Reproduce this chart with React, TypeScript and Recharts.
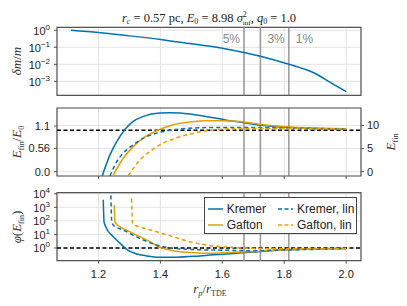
import React from "react";
import {
  LineChart,
  Line,
  XAxis,
  YAxis,
  CartesianGrid,
  ReferenceLine,
  ReferenceArea,
} from "recharts";

// shared x axis (r_p / r_TDE)
const xDomain = [1.066, 2.048];
const xTicks = [1.2, 1.4, 1.6, 1.8, 2.0];
const cutX = [1.67, 1.723, 1.815];
const cutLabels = ["5%", "3%", "1%"];
const E0 = 8.98;

// top panel: delta m / m
const dmX = [1.111, 1.2, 1.3, 1.4, 1.5, 1.6, 1.67, 1.723, 1.815, 1.9, 1.95, 2.0];
const dmY = [1.0, 0.74, 0.47, 0.29, 0.16, 0.089, 0.05, 0.03, 0.01, 0.0029, 0.00083, 0.00025];

// middle panel: E_fin
const kremerEX = [1.212, 1.237, 1.259, 1.285, 1.312, 1.345, 1.398, 1.43, 1.495, 1.55, 1.61, 1.656, 1.732, 1.818, 1.9, 2.0];
const kremerE = [-0.93, 3.63, 6.52, 9.07, 10.87, 11.96, 12.7, 12.76, 12.5, 11.9, 11.2, 10.74, 10.0, 9.57, 9.35, 9.2];
const gaftonEX = [1.246, 1.28, 1.312, 1.345, 1.388, 1.441, 1.495, 1.549, 1.603, 1.656, 1.732, 1.818, 1.9, 2.0];
const gaftonE = [-0.93, 2.9, 5.43, 7.26, 8.85, 10.15, 10.74, 11.02, 11.02, 10.87, 10.15, 9.65, 9.45, 9.28];
const kremerLinEX = [1.237, 1.259, 1.28, 1.312, 1.345, 1.388, 1.441, 1.495, 1.55, 1.603, 1.7, 1.8, 1.9, 2.0];
const kremerLinE = [-0.93, 2.17, 4.0, 5.8, 7.26, 8.35, 9.07, 9.4, 9.55, 9.57, 9.55, 9.45, 9.35, 9.25];
const gaftonLinEX = [1.296, 1.334, 1.366, 1.398, 1.441, 1.495, 1.549, 1.624, 1.7, 1.8, 1.9, 2.0];
const gaftonLinE = [-0.93, 2.54, 4.35, 5.8, 7.04, 8.13, 8.85, 9.28, 9.35, 9.35, 9.3, 9.25];

// bottom panel: phi(E_fin)
const kremerPhiX = [1.2155, 1.218, 1.226, 1.248, 1.27, 1.291, 1.323, 1.356, 1.398, 1.452, 1.527, 1.603, 1.7, 1.818, 1.9, 2.0];
const kremerPhi = [3630, 83, 27.5, 6.8, 2.19, 0.79, 0.36, 0.26, 0.21, 0.21, 0.26, 0.35, 0.5, 0.76, 0.85, 0.93];
const kremerLinPhiX = [1.24, 1.243, 1.248, 1.28, 1.312, 1.345, 1.388, 1.441, 1.495, 1.603, 1.7, 1.8, 1.9, 2.0];
const kremerLinPhi = [7600, 83, 48, 21, 8.9, 3.9, 1.66, 0.95, 0.79, 0.68, 0.63, 0.71, 0.79, 0.89];
const gaftonPhiX = [1.251, 1.253, 1.27, 1.302, 1.334, 1.366, 1.398, 1.441, 1.495, 1.549, 1.624, 1.7, 1.8, 1.9, 2.0];
const gaftonPhi = [1410, 83, 36, 15.5, 6.8, 2.9, 1.12, 0.63, 0.46, 0.41, 0.46, 0.54, 0.71, 0.83, 0.91];
const gaftonLinPhiX = [1.307, 1.31, 1.334, 1.388, 1.441, 1.495, 1.549, 1.624, 1.7, 1.8, 1.9, 2.0];
const gaftonLinPhi = [4400, 63, 36, 15.5, 6.8, 2.9, 1.66, 1.12, 0.93, 0.87, 0.87, 0.89];

const BLUE = "#0072B2";
const ORANGE = "#E69F00";
const SANS = "'Liberation Sans', Arial, sans-serif";
const SERIF = "'Liberation Serif', 'DejaVu Serif', serif";
const GRID = "#e3e3e3";
const FRAME = "#555";

const pts = (xs: number[], ys: number[]) => xs.map((x, i) => ({ x, y: ys[i] }));

const PowTick = (props: any) => {
  const { x, y, payload } = props;
  const e = Math.round(Math.log10(payload.value));
  return (
    <text x={x} y={y} dy={4.5} textAnchor="end" fontSize={11} fill="#222" fontFamily={SANS}>
      10
      <tspan dy={-5} fontSize={8}>
        {e < 0 ? "\u2212" + -e : String(e)}
      </tspan>
    </text>
  );
};

const cutLines = (yAxisId: any, labels: boolean) =>
  cutX.map((cx, i) => (
    <ReferenceLine
      key={cx}
      x={cx}
      yAxisId={yAxisId}
      stroke={i === 2 ? "#666" : "#9a9a9a"}
      strokeWidth={i === 2 ? 1 : 1.6}
      label={
        labels
          ? (p: any) => {
              const vb = p.viewBox;
              const right = i > 0;
              return (
                <text
                  x={right ? vb.x + 7 : vb.x - 4}
                  y={vb.y + 16}
                  textAnchor={right ? "start" : "end"}
                  fontSize={12}
                  fill="#888"
                  fontFamily={SANS}
                >
                  {cutLabels[i]}
                </text>
              );
            }
          : undefined
      }
    />
  ));

const LegendSample = ({ color, dashed }: { color: string; dashed: boolean }) => (
  <svg width={15} height={4} style={{ display: "block" }}>
    <line x1={0} y1={2} x2={15} y2={2} stroke={color} strokeWidth={1.5} strokeDasharray={dashed ? "4 2.5" : undefined} />
  </svg>
);

const legendItems = [
  { name: "Kremer", color: BLUE, dashed: false, left: 2.7, top: 11.3 },
  { name: "Gafton", color: ORANGE, dashed: false, left: 2.7, top: 27 },
  { name: "Kremer, lin", color: BLUE, dashed: true, left: 73, top: 11.3 },
  { name: "Gafton, lin", color: ORANGE, dashed: true, left: 73, top: 27 },
];

export default function App() {
  const dmDomain = [0.000151, 1.5];
  const phiDomain = [0.115, 12000];
  const absDomain = [-0.93, 13.78];
  const ratioDomain = [absDomain[0] / E0, absDomain[1] / E0];
  const tickFont = { fontSize: 11, fill: "#222", fontFamily: SANS };

  return (
    <div style={{ position: "absolute", left: 0, top: 0, width: 407, height: 306, background: "#fff" }}>
      {/* top panel */}
      <div style={{ position: "absolute", left: 0, top: 0 }}>
        <LineChart width={407} height={100} margin={{ top: 27.3, right: 46, bottom: 4.7, left: 0 }}>
          <CartesianGrid stroke={GRID} />
          <XAxis dataKey="x" type="number" domain={xDomain} ticks={xTicks} allowDataOverflow hide />
          <YAxis
            type="number"
            scale="log"
            domain={dmDomain}
            ticks={[0.001, 0.01, 0.1, 1]}
            interval={0}
            allowDataOverflow
            width={57}
            axisLine={false}
            tickSize={3}
            tickMargin={4}
            tickLine={{ stroke: FRAME }}
            tick={PowTick}
          />
          {cutLines(0, true)}
          <Line data={pts(dmX, dmY)} dataKey="y" type="monotone" stroke={BLUE} strokeWidth={1.5} dot={false} isAnimationActive={false} />
          <ReferenceArea x1={xDomain[0]} x2={xDomain[1]} y1={dmDomain[0]} y2={dmDomain[1]} fill="none" stroke={FRAME} strokeWidth={1.2} ifOverflow="visible" />
        </LineChart>
      </div>

      {/* middle panel */}
      <div style={{ position: "absolute", left: 0, top: 100 }}>
        <LineChart width={407} height={90} margin={{ top: 8, right: 0, bottom: 0, left: 0 }}>
          <CartesianGrid stroke={GRID} yAxisId="abs" />
          <XAxis
            dataKey="x"
            type="number"
            domain={xDomain}
            ticks={xTicks}
            interval={0}
            allowDataOverflow
            height={14}
            axisLine={false}
            tickSize={3}
            tickLine={{ stroke: FRAME }}
            tickFormatter={() => ""}
          />
          <YAxis
            yAxisId="ratio"
            type="number"
            domain={ratioDomain}
            ticks={[0, 0.56, 1.1]}
            interval={0}
            allowDataOverflow
            width={57}
            axisLine={false}
            tickSize={3}
            tickMargin={4}
            tickLine={{ stroke: FRAME }}
            tick={tickFont}
            tickFormatter={(v: number) => (v === 0 ? "0.0" : String(v))}
          />
          <YAxis
            yAxisId="abs"
            orientation="right"
            type="number"
            domain={absDomain}
            ticks={[0, 5, 10]}
            interval={0}
            allowDataOverflow
            width={46}
            axisLine={false}
            tickSize={3}
            tickMargin={3}
            tickLine={{ stroke: FRAME }}
            tick={tickFont}
          />
          {cutLines("abs", false)}
          <ReferenceLine yAxisId="ratio" y={1} stroke="#000" strokeWidth={1.5} strokeDasharray="4 2.5" />
          <Line yAxisId="abs" data={pts(kremerEX, kremerE)} dataKey="y" type="monotone" stroke={BLUE} strokeWidth={1.5} dot={false} isAnimationActive={false} />
          <Line yAxisId="abs" data={pts(gaftonEX, gaftonE)} dataKey="y" type="monotone" stroke={ORANGE} strokeWidth={1.5} dot={false} isAnimationActive={false} />
          <Line yAxisId="abs" data={pts(kremerLinEX, kremerLinE)} dataKey="y" type="monotone" stroke={BLUE} strokeWidth={1.5} strokeDasharray="4 3" dot={false} isAnimationActive={false} />
          <Line yAxisId="abs" data={pts(gaftonLinEX, gaftonLinE)} dataKey="y" type="monotone" stroke={ORANGE} strokeWidth={1.5} strokeDasharray="4 3" dot={false} isAnimationActive={false} />
          <ReferenceArea yAxisId="abs" x1={xDomain[0]} x2={xDomain[1]} y1={absDomain[0]} y2={absDomain[1]} fill="none" stroke={FRAME} strokeWidth={1.2} ifOverflow="visible" />
        </LineChart>
      </div>

      {/* bottom panel (starts higher so the 10^4 superscript is not clipped) */}
      <div style={{ position: "absolute", left: 0, top: 178 }}>
        <LineChart width={407} height={102} margin={{ top: 14.7, right: 46, bottom: 0, left: 0 }}>
          <CartesianGrid stroke={GRID} />
          <XAxis
            dataKey="x"
            type="number"
            domain={xDomain}
            ticks={xTicks}
            interval={0}
            allowDataOverflow
            height={19.3}
            axisLine={false}
            tickSize={3}
            tickMargin={6.5}
            tickLine={{ stroke: FRAME }}
            tick={tickFont}
            tickFormatter={(v: number) => v.toFixed(1)}
          />
          <YAxis
            type="number"
            scale="log"
            domain={phiDomain}
            ticks={[1, 10, 100, 1000, 10000]}
            interval={0}
            allowDataOverflow
            width={57}
            axisLine={false}
            tickSize={3}
            tickMargin={4}
            tickLine={{ stroke: FRAME }}
            tick={PowTick}
          />
          {cutLines(0, false)}
          <ReferenceLine y={1} stroke="#000" strokeWidth={1.5} strokeDasharray="4 2.5" />
          <Line data={pts(kremerPhiX, kremerPhi)} dataKey="y" type="monotone" stroke={BLUE} strokeWidth={1.5} dot={false} isAnimationActive={false} />
          <Line data={pts(gaftonPhiX, gaftonPhi)} dataKey="y" type="monotone" stroke={ORANGE} strokeWidth={1.5} dot={false} isAnimationActive={false} />
          <Line data={pts(kremerLinPhiX, kremerLinPhi)} dataKey="y" type="monotone" stroke={BLUE} strokeWidth={1.5} strokeDasharray="4 3" dot={false} isAnimationActive={false} />
          <Line data={pts(gaftonLinPhiX, gaftonLinPhi)} dataKey="y" type="monotone" stroke={ORANGE} strokeWidth={1.5} strokeDasharray="4 3" dot={false} isAnimationActive={false} />
          <ReferenceArea x1={xDomain[0]} x2={xDomain[1]} y1={phiDomain[0]} y2={phiDomain[1]} fill="none" stroke={FRAME} strokeWidth={1.2} ifOverflow="visible" />
        </LineChart>
      </div>

      {/* legend */}
      <div
        style={{
          position: "absolute",
          left: 204,
          top: 196.7,
          width: 153,
          height: 37,
          boxSizing: "border-box",
          border: "1px solid #444",
          background: "#fff",
          fontFamily: SANS,
          fontSize: 12,
          color: "#222",
        }}
      >
        {legendItems.map((it) => (
          <div
            key={it.name}
            style={{ position: "absolute", left: it.left, top: it.top - 8, height: 16, display: "flex", alignItems: "center", whiteSpace: "nowrap" }}
          >
            <LegendSample color={it.color} dashed={it.dashed} />
            <span style={{ marginLeft: 4 }}>{it.name}</span>
          </div>
        ))}
      </div>

      {/* titles and axis labels */}
      <svg width={407} height={306} style={{ position: "absolute", left: 0, top: 0, pointerEvents: "none" }}>
        <text x={209} y={21.5} textAnchor="middle" fontFamily={SERIF} fontSize={12.5} fill="#222">
          <tspan fontStyle="italic">r</tspan>
          <tspan fontSize={8} dy={2.5} fontStyle="italic">c</tspan>
          <tspan dy={-2.5}> = 0.57 pc, </tspan>
          <tspan fontStyle="italic">E</tspan>
          <tspan fontSize={8} dy={2.5}>0</tspan>
          <tspan dy={-2.5}> = 8.98 </tspan>
          <tspan fontStyle="italic">σ</tspan>
          <tspan fontSize={8} dy={-5}>2</tspan>
          <tspan fontSize={7} dx={-4} dy={8}>inf</tspan>
          <tspan dy={-3}>, </tspan>
          <tspan fontStyle="italic">q</tspan>
          <tspan fontSize={8} dy={2.5}>0</tspan>
          <tspan dy={-2.5}> = 1.0</tspan>
        </text>

        <text transform="translate(21,61) rotate(-90)" textAnchor="middle" fontFamily={SERIF} fontSize={13} fill="#333">
          <tspan fontStyle="italic">δm</tspan>
          <tspan>/</tspan>
          <tspan fontStyle="italic">m</tspan>
        </text>

        <text transform="translate(21,142) rotate(-90)" textAnchor="middle" fontFamily={SERIF} fontSize={13} fill="#333">
          <tspan fontStyle="italic">E</tspan>
          <tspan fontSize={8} dy={2.5}>fin</tspan>
          <tspan dy={-2.5}>/</tspan>
          <tspan fontStyle="italic">E</tspan>
          <tspan fontSize={8} dy={2.5}>0</tspan>
        </text>

        <text transform="translate(21,227) rotate(-90)" textAnchor="middle" fontFamily={SERIF} fontSize={13} fill="#333">
          <tspan fontStyle="italic">φ</tspan>
          <tspan>(</tspan>
          <tspan fontStyle="italic">E</tspan>
          <tspan fontSize={8} dy={2.5}>fin</tspan>
          <tspan dy={-2.5}>)</tspan>
        </text>

        <text transform="translate(395,142) rotate(-90)" textAnchor="middle" fontFamily={SERIF} fontSize={13} fill="#333">
          <tspan fontStyle="italic">E</tspan>
          <tspan fontSize={8} dy={2.5}>fin</tspan>
        </text>

        <text x={210} y={293} textAnchor="middle" fontFamily={SERIF} fontSize={13} fill="#333">
          <tspan fontStyle="italic">r</tspan>
          <tspan fontSize={8} dy={2.5} fontStyle="italic">p</tspan>
          <tspan dy={-2.5}>/</tspan>
          <tspan fontStyle="italic">r</tspan>
          <tspan fontSize={8} dy={2.5}>TDE</tspan>
        </text>
      </svg>
    </div>
  );
}
